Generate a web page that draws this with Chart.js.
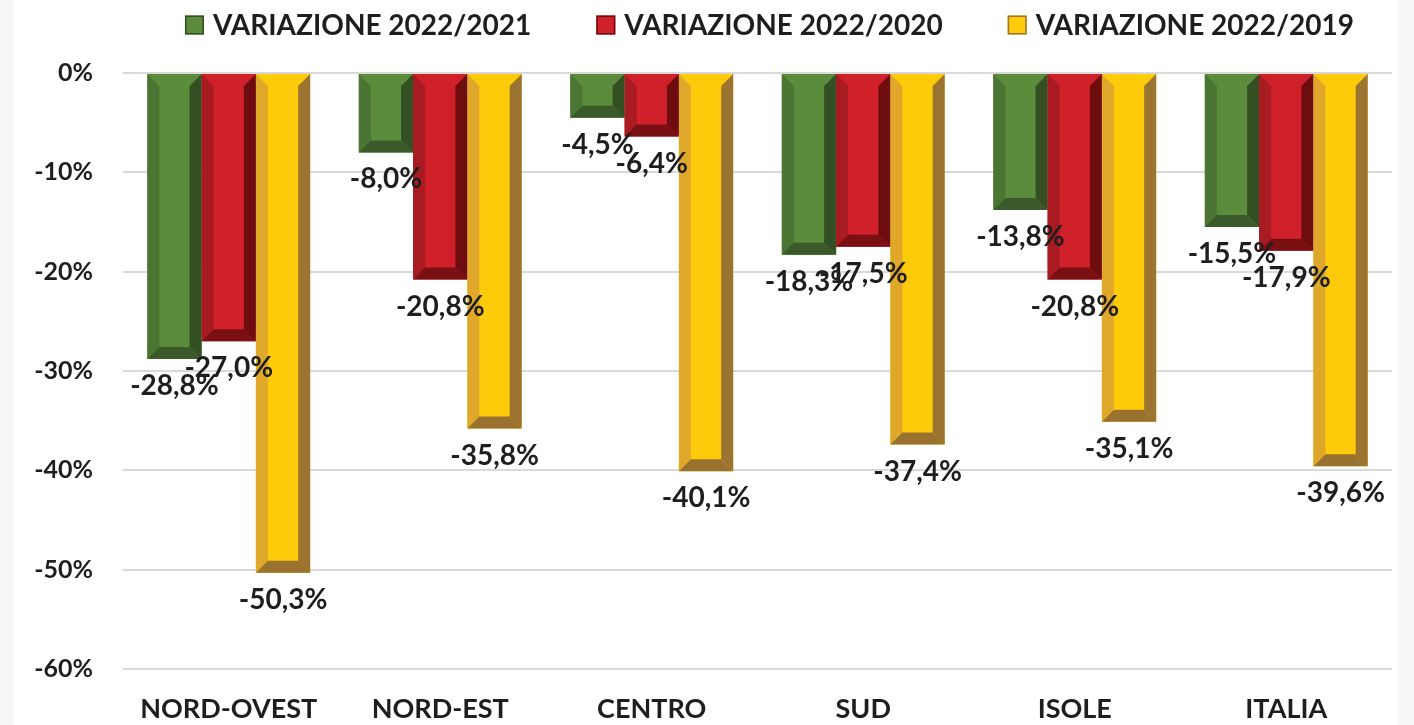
<!DOCTYPE html>
<html>
<head>
<meta charset="utf-8">
<script src="https://cdn.jsdelivr.net/npm/chart.js@4.4.1/dist/chart.umd.min.js"></script>
<style>
    body { margin: 0; background: #f7f7f7; }
    .box { position: absolute; left: 13px; top: 0; width: 1385px; height: 725px; background: #fff; }
</style>
</head>
<body>
<div class="box"><canvas id="varChart"></canvas></div>
<script>
// dati
const categories = ['NORD-OVEST', 'NORD-EST', 'CENTRO', 'SUD', 'ISOLE', 'ITALIA'];
const seriesNames = ['VARIAZIONE 2022/2021', 'VARIAZIONE 2022/2020', 'VARIAZIONE 2022/2019'];
const var2021 = [-28.8, -8.0, -4.5, -18.3, -13.8, -15.5];
const var2020 = [-27.0, -20.8, -6.4, -17.5, -20.8, -17.9];
const var2019 = [-50.3, -35.8, -40.1, -37.4, -35.1, -39.6];

// colori: faccia, lato sinistro, lato destro, fondo
const palette = [
    { face: '#5a8c3c', left: '#4a7533', right: '#344f24', bottom: '#3b5a2a' },
    { face: '#d0202a', left: '#a81b21', right: '#6e0d10', bottom: '#7a1014' },
    { face: '#fecb0a', left: '#e0a82a', right: '#9a7430', bottom: '#98722e' }
];

const FONT = 'Lato';
const TEXT = '#1e1e1e';

function fmt(v) {
    return v.toFixed(1).replace('.', ',') + '%';
}

// effetto smussato delle barre
const bevelPlugin = {
    id: 'bevel',
    afterDatasetsDraw(chart) {
        const ctx = chart.ctx;
        chart.data.datasets.forEach(function(ds, i) {
            const col = palette[i];
            chart.getDatasetMeta(i).data.forEach(function(bar) {
                const L = bar.x - bar.width / 2;
                const R = bar.x + bar.width / 2;
                const T = Math.min(bar.base, bar.y);
                const B = Math.max(bar.base, bar.y);
                const b = Math.min(12, (B - T) / 2, bar.width / 4);
                ctx.save();
                ctx.fillStyle = col.left;
                ctx.beginPath();
                ctx.moveTo(L, T); ctx.lineTo(L + b, T + b); ctx.lineTo(L + b, B - b); ctx.lineTo(L, B);
                ctx.closePath(); ctx.fill();
                ctx.fillStyle = col.right;
                ctx.beginPath();
                ctx.moveTo(R, T); ctx.lineTo(R - b, T + b); ctx.lineTo(R - b, B - b); ctx.lineTo(R, B);
                ctx.closePath(); ctx.fill();
                ctx.fillStyle = col.bottom;
                ctx.beginPath();
                ctx.moveTo(L, B); ctx.lineTo(L + b, B - b); ctx.lineTo(R - b, B - b); ctx.lineTo(R, B);
                ctx.closePath(); ctx.fill();
                ctx.restore();
            });
        });
    }
};

// etichette dei valori sotto le barre
const valueLabels = {
    id: 'valueLabels',
    afterDatasetsDraw(chart) {
        const ctx = chart.ctx;
        ctx.save();
        ctx.font = 'bold 28px ' + FONT;
        ctx.fillStyle = TEXT;
        ctx.textAlign = 'center';
        ctx.textBaseline = 'middle';
        chart.data.datasets.forEach(function(ds, i) {
            chart.getDatasetMeta(i).data.forEach(function(bar, j) {
                ctx.fillText(fmt(ds.data[j]), bar.x, bar.y + 27);
            });
        });
        ctx.restore();
    }
};

// legenda in alto, centrata sull'area del grafico
const topLegend = {
    id: 'topLegend',
    afterDraw(chart) {
        const ctx = chart.ctx;
        const area = chart.chartArea;
        const box = 19, gapText = 9, gapItem = 65, y = 25;
        ctx.save();
        ctx.font = 'bold 28px ' + FONT;
        ctx.textBaseline = 'middle';
        ctx.textAlign = 'left';
        const widths = chart.data.datasets.map(function(ds) {
            return box + gapText + ctx.measureText(ds.label).width;
        });
        const total = widths.reduce(function(a, b) { return a + b; }, 0) + gapItem * (widths.length - 1);
        let x = (area.left + area.right) / 2 - total / 2 + 12;
        chart.data.datasets.forEach(function(ds, i) {
            ctx.fillStyle = palette[i].face;
            ctx.fillRect(x, y - box / 2, box, box);
            ctx.strokeStyle = palette[i].right;
            ctx.lineWidth = 1.5;
            ctx.strokeRect(x + 0.75, y - box / 2 + 0.75, box - 1.5, box - 1.5);
            ctx.fillStyle = TEXT;
            ctx.fillText(ds.label, x + box + gapText, y + 1);
            x += widths[i] + gapItem;
        });
        ctx.restore();
    }
};

const ctx = document.getElementById('varChart').getContext('2d');

const varChart = new Chart(ctx, {
    type: 'bar',
    data: {
        labels: categories,
        datasets: [var2021, var2020, var2019].map(function(arr, i) {
            return {
                label: seriesNames[i],
                data: arr,
                backgroundColor: palette[i].face,
                borderWidth: 0,
                categoryPercentage: 0.77,
                barPercentage: 1
            };
        })
    },
    options: {
        responsive: true,
        maintainAspectRatio: false,
        animation: false,
        layout: {
            padding: { top: 73, left: 9, right: 6, bottom: 0 }
        },
        plugins: {
            tooltip: { enabled: false },
            legend: { display: false }
        },
        scales: {
            x: {
                grid: { display: false, drawTicks: false },
                border: { display: false },
                afterFit: function(scale) { scale.height = 56; },
                ticks: {
                    color: TEXT,
                    padding: 24,
                    font: { family: FONT, size: 27, weight: 'bold' }
                }
            },
            y: {
                min: -60,
                max: 0,
                grid: { color: '#d9d9d9', lineWidth: 2, drawTicks: false },
                border: { display: false },
                afterFit: function(scale) { scale.width = 101; },
                ticks: {
                    stepSize: 10,
                    color: TEXT,
                    padding: 30,
                    font: { family: FONT, size: 25, weight: 'bold' },
                    callback: function(v) { return v + '%'; }
                }
            }
        }
    },
    plugins: [bevelPlugin, valueLabels, topLegend]
});
</script>
</body>
</html>
